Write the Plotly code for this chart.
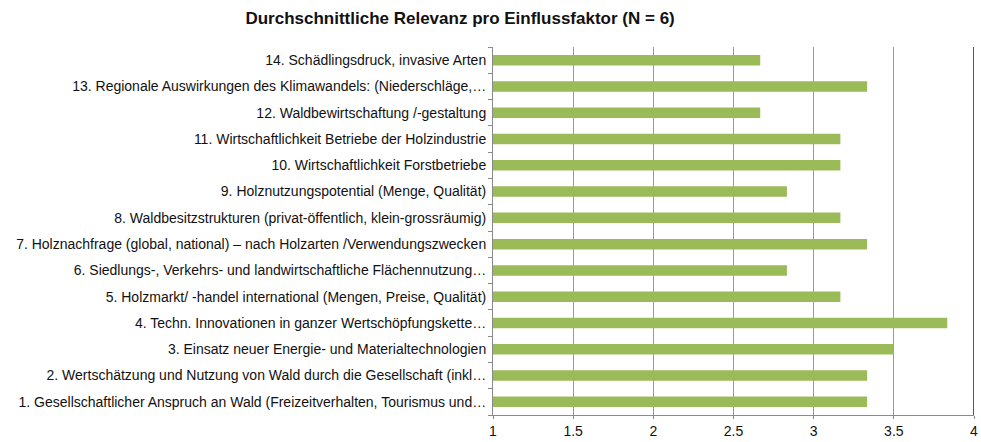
import plotly.graph_objects as go

# Influence factors, listed bottom to top as they appear on the y axis
factors = [
    "1. Gesellschaftlicher Anspruch an Wald (Freizeitverhalten, Tourismus und…",
    "2. Wertschätzung und Nutzung von Wald durch die Gesellschaft (inkl…",
    "3. Einsatz neuer Energie- und Materialtechnologien",
    "4. Techn. Innovationen in ganzer Wertschöpfungskette…",
    "5. Holzmarkt/ -handel international (Mengen, Preise, Qualität)",
    "6. Siedlungs-, Verkehrs- und landwirtschaftliche Flächennutzung…",
    "7. Holznachfrage (global, national) – nach Holzarten /Verwendungszwecken",
    "8. Waldbesitzstrukturen (privat-öffentlich, klein-grossräumig)",
    "9. Holznutzungspotential (Menge, Qualität)",
    "10. Wirtschaftlichkeit Forstbetriebe",
    "11. Wirtschaftlichkeit Betriebe der Holzindustrie",
    "12. Waldbewirtschaftung /-gestaltung",
    "13. Regionale Auswirkungen des Klimawandels: (Niederschläge,…",
    "14. Schädlingsdruck, invasive Arten",
]

# Mean relevance over 6 ratings
mean_relevance = [
    20 / 6, 20 / 6, 21 / 6, 23 / 6, 19 / 6, 17 / 6, 20 / 6,
    19 / 6, 17 / 6, 19 / 6, 19 / 6, 16 / 6, 20 / 6, 16 / 6,
]

x_ticks = [1, 1.5, 2, 2.5, 3, 3.5, 4]
x_tick_text = ["1", "1.5", "2", "2.5", "3", "3.5", "4"]

fig = go.Figure(
    go.Bar(
        x=mean_relevance,
        y=factors,
        base=0,
        orientation="h",
        marker=dict(color="#9BBB59", line=dict(width=0)),
        width=0.4,
        hoverinfo="x+y",
    )
)

fig.update_layout(
    width=981,
    height=442,
    margin=dict(l=493, r=3, t=47, b=27),
    paper_bgcolor="white",
    plot_bgcolor="white",
    font=dict(family="Liberation Sans, Arial, sans-serif", size=14, color="#111111"),
    title=dict(
        text="<b>Durchschnittliche Relevanz pro Einflussfaktor (N = 6)</b>",
        x=0.469,
        xanchor="center",
        y=0.96,
        yanchor="middle",
        font=dict(size=17, color="#111111"),
    ),
    showlegend=False,
)

fig.update_xaxes(
    range=[1, 4],
    tickvals=x_ticks,
    ticktext=x_tick_text,
    showgrid=True,
    gridcolor="#9a9a9a",
    gridwidth=1,
    showline=True,
    linecolor="#8a8a8a",
    linewidth=1,
    ticks="outside",
    ticklen=3,
    tickcolor="#8a8a8a",
    zeroline=False,
    ticklabeloverflow="allow",
    tickfont=dict(size=14, color="#111111"),
)

fig.update_yaxes(
    type="category",
    categoryorder="array",
    categoryarray=factors,
    showline=True,
    linecolor="#8a8a8a",
    linewidth=1,
    ticks="outside",
    tickson="boundaries",
    ticklen=4,
    tickcolor="#8a8a8a",
    ticklabelstandoff=3,
    showgrid=False,
    tickfont=dict(size=14, color="#111111"),
)

# Dark right-hand frame line at the axis maximum
fig.add_shape(
    type="line",
    xref="x",
    yref="paper",
    x0=4,
    x1=4,
    y0=0,
    y1=1,
    line=dict(color="#222222", width=1.5),
)

fig.write_html("out.html")
